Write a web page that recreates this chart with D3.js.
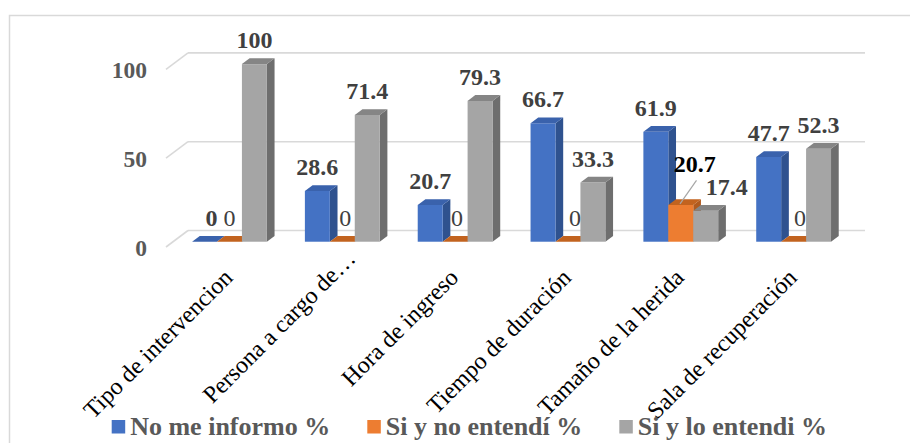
<!DOCTYPE html>
<html>
<head>
<meta charset="utf-8">
<script src="https://cdn.jsdelivr.net/npm/d3@7/dist/d3.min.js"></script>
<style>
  html, body { margin: 0; padding: 0; background: #fff; }
  svg { display: block; }
</style>
</head>
<body>
<svg id="chart" width="910" height="443"></svg>
<script>
// Categories and series values (percent)
const categories = [
  "Tipo de intervencion",
  "Persona a cargo de…",
  "Hora de ingreso",
  "Tiempo de duración",
  "Tamaño de la herida",
  "Sala de recuperación"
];
const seriesNames = ["No me informo %", "Si y no entendí %", "Si y lo entendi %"];
const noMeInformo = [0, 28.6, 20.7, 66.7, 61.9, 47.7];
const siNoEntendi = [0, 0, 0, 0, 20.7, 0];
const siLoEntendi = [100, 71.4, 79.3, 33.3, 17.4, 52.3];
const yTicks = [0, 50, 100];

const seriesValues = [noMeInformo, siNoEntendi, siLoEntendi];
const FONT = "'Liberation Serif', 'Times New Roman', Tinos, 'DejaVu Serif', serif";

// Face colours per series: front, right side, top
const palette = [
  { front: "#4472C4", side: "#2F528F", top: "#3A62AC", legend: "#4472C4" },
  { front: "#ED7D31", side: "#B05A1E", top: "#C2631F", legend: "#ED7D31" },
  { front: "#A5A5A5", side: "#6E6E6E", top: "#858585", legend: "#A5A5A5" }
];

const svg = d3.select("#chart").attr("font-family", FONT);

// Chart frame
svg.append("rect")
  .attr("x", 9.5).attr("y", 15.5)
  .attr("width", 930).attr("height", 460)
  .attr("fill", "none").attr("stroke", "#D9D9D9").attr("stroke-width", 1.5);

// 3D projection: front plane scales plus a depth vector toward the back wall
const DX = 22, DY = -16.5;
const x0 = d3.scaleBand().domain(categories).range([166, 843]);
const y = d3.scaleLinear().domain([0, 100]).range([247, 69.4]);
const bw = x0.bandwidth();
const barW = bw * 0.221;
const groupPad = (bw - 3 * barW) / 2;
const x1 = d3.scaleBand().domain(seriesNames).range([groupPad, groupPad + 3 * barW]);
const T1 = 0.32, T2 = 0.67;   // bar front / back depth fractions

// Gridlines: back wall + left side wall
const grid = svg.append("g");
yTicks.forEach(v => {
  const yb = y(v) + DY;
  grid.append("line")
    .attr("x1", 166 + DX).attr("x2", 843 + DX)
    .attr("y1", yb).attr("y2", yb)
    .attr("stroke", "#D9D9D9").attr("stroke-width", 1.6);
  grid.append("path")
    .attr("d", `M${166 + DX},${yb}L166,${y(v)}`)
    .attr("fill", "none")
    .attr("stroke", "#D9D9D9").attr("stroke-width", 1.6);
});

// Y axis labels on the front plane
const yAxis = d3.axisLeft(y).tickValues(yTicks).tickSize(0).tickPadding(0).tickFormat(d3.format("d"));
const yg = svg.append("g").attr("transform", "translate(147,0)").call(yAxis);
yg.attr("font-family", FONT).attr("font-size", null);
yg.select(".domain").remove();
yg.selectAll("text")
  .attr("fill", "#595959")
  .attr("font-size", "23.5px")
  .attr("font-weight", "bold")
  .attr("font-family", FONT)
  .attr("dy", "0.34em");

// Bars
const bars = [];
categories.forEach((c, ci) => {
  seriesNames.forEach((s, si) => {
    const v = seriesValues[si][ci];
    const xl = x0(c) + x1(s) + T1 * DX;
    const xr = xl + barW;
    const yb = y(0) + T1 * DY;
    const yt = y(v) + T1 * DY;
    const ddx = (T2 - T1) * DX, ddy = (T2 - T1) * DY;
    bars.push({ ci, si, v, xl, xr, yb, yt, ddx, ddy });
  });
});

const barG = svg.append("g");
bars.forEach(b => {
  const col = palette[b.si];
  const g = barG.append("g");
  // right side face
  g.append("path")
    .attr("d", `M${b.xr},${b.yt}L${b.xr + b.ddx},${b.yt + b.ddy}L${b.xr + b.ddx},${b.yb + b.ddy}L${b.xr},${b.yb}Z`)
    .attr("fill", col.side);
  // front face
  if (b.yb - b.yt > 0) {
    g.append("rect")
      .attr("x", b.xl).attr("y", b.yt)
      .attr("width", barW).attr("height", b.yb - b.yt)
      .attr("fill", col.front);
  }
  // top face
  g.append("path")
    .attr("d", `M${b.xl},${b.yt}L${b.xr},${b.yt}L${b.xr + b.ddx},${b.yt + b.ddy}L${b.xl + b.ddx},${b.yt + b.ddy}Z`)
    .attr("fill", col.top);
});

// Data labels; small nudges keep neighbouring labels from colliding
const nudge = {
  "0-0": [7, 0], "0-1": [0, 0],
  "1-1": [3, 0], "2-1": [2, 0], "3-1": [7, 0], "5-1": [6.5, 0],
  "4-1": [14, -17], "4-2": [21, 0]
};
const labelG = svg.append("g");
bars.forEach(b => {
  const key = b.ci + "-" + b.si;
  const [ndx, ndy] = nudge[key] || [0, 0];
  const cx = (b.xl + b.xr) / 2 + ndx;
  const by = b.yt - 16 + ndy;
  const isZeroOrange = b.si === 1 && b.v === 0;
  labelG.append("text")
    .attr("x", cx).attr("y", by)
    .attr("text-anchor", "middle")
    .attr("font-family", FONT)
    .attr("font-size", "24px")
    .attr("font-weight", isZeroOrange ? "normal" : "bold")
    .attr("fill", b.si === 1 && b.v > 0 ? "#000000" : "#404040")
    .text(d3.format("~g")(b.v));
  if (b.si === 1 && b.v > 0) {
    labelG.append("line")
      .attr("x1", cx + 1.7).attr("y1", by + 8.4)
      .attr("x2", (b.xl + b.xr) / 2 - 0.8).attr("y2", b.yt - 1)
      .attr("stroke", "#A6A6A6").attr("stroke-width", 1.2);
  }
});

// Category labels, rotated -45°
const catG = svg.append("g");
categories.forEach((c, ci) => {
  const ax = x0(c) + bw / 2 + 11.6;
  const ay = 279;
  const shift = c.endsWith("…") ? [10, -19] : [0, 0];
  catG.append("text")
    .attr("transform", `translate(${ax + shift[0]},${ay + shift[1]}) rotate(-45)`)
    .attr("text-anchor", "end")
    .attr("font-family", FONT)
    .attr("font-size", "24px")
    .attr("fill", "#000")
    .text(c);
});

// Legend
const legendX = [111.7, 367.3, 619.3];
const lg = svg.append("g");
seriesNames.forEach((s, si) => {
  lg.append("rect")
    .attr("x", legendX[si]).attr("y", 420)
    .attr("width", 13.5).attr("height", 13.5)
    .attr("fill", palette[si].legend);
  lg.append("text")
    .attr("x", legendX[si] + 18.5).attr("y", 435)
    .attr("font-family", FONT)
    .attr("font-size", "26px")
    .attr("font-weight", "bold")
    .attr("fill", "#595959")
    .text(s);
});
</script>
</body>
</html>
